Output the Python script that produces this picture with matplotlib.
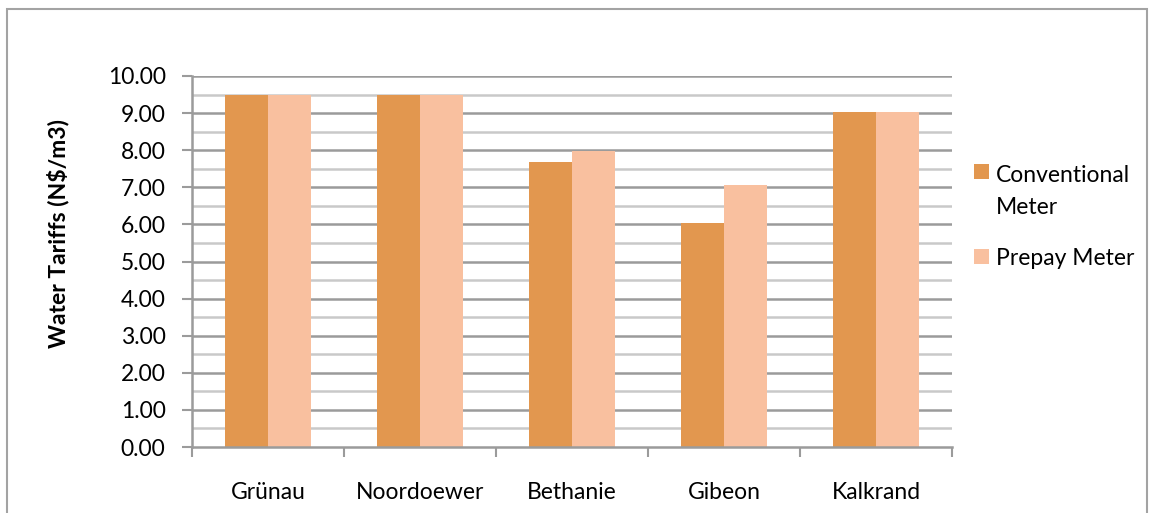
import matplotlib
matplotlib.use("Agg")
import matplotlib.pyplot as plt
from matplotlib.patches import Rectangle
import numpy as np

plt.rcParams['font.family'] = ['Lato', 'DejaVu Sans']

towns = ["Grünau", "Noordoewer", "Bethanie", "Gibeon", "Kalkrand"]
conventional = [9.50, 9.50, 7.68, 6.03, 9.03]
prepay = [9.50, 9.50, 7.98, 7.06, 9.03]
series_names = ["Conventional\nMeter", "Prepay Meter"]
y_label = "Water Tariffs (N$/m3)"

c_conv = "#E2974F"
c_pre = "#F9C09F"
grid_major = "#9B9B9B"
grid_minor = "#C9C9C9"

W, H = 1152, 513
fs = 16.5
fig = plt.figure(figsize=(W / 100, H / 100), dpi=100)

# outer chart border
fig.patches.append(Rectangle((7 / W, -0.1), 1140 / W, 1 - 9 / H + 0.1,
                             transform=fig.transFigure, fill=False,
                             edgecolor="#A3A3A3", linewidth=1.5))

ax = fig.add_axes([192 / W, 1 - 447 / H, 760 / W, 371 / H])

x = np.arange(len(towns))
bw = 0.283
bars_c = ax.bar(x - bw / 2, conventional, bw, color=c_conv, zorder=3)
bars_p = ax.bar(x + bw / 2, prepay, bw, color=c_pre, zorder=3)

ax.set_xlim(-0.5, len(towns) - 0.5)
ax.set_ylim(0, 10)

# gridlines: whole units dark, half units light
for v in np.arange(0.5, 10, 1.0):
    ax.axhline(v, color=grid_minor, linewidth=1.8, zorder=1)
for v in np.arange(1, 11, 1.0):
    ax.axhline(v, color=grid_major, linewidth=1.8, zorder=1)

ax.set_yticks(np.arange(0, 11, 1))
ax.set_yticklabels([f"{v:.2f}" for v in np.arange(0, 11, 1)])
ax.tick_params(axis="y", length=7, width=1.5, color=grid_major, pad=12,
               labelsize=fs, labelcolor="black")

# category boundary ticks and centred labels
ax.set_xticks(np.arange(-0.5, len(towns), 1.0))
ax.set_xticklabels([])
ax.tick_params(axis="x", which="major", length=7, width=1.5, color=grid_major)
ax.set_xticks(x, minor=True)
ax.set_xticklabels(towns, minor=True)
ax.tick_params(axis="x", which="minor", length=0, pad=25, labelsize=fs)

for s in ["top", "right"]:
    ax.spines[s].set_visible(False)
for s in ["left", "bottom"]:
    ax.spines[s].set_color(grid_major)
    ax.spines[s].set_linewidth(1.8)
    ax.spines[s].set_zorder(4)

fig.text(58 / W, 1 - 233 / H, y_label, rotation=90, ha="center", va="center",
         fontsize=fs, fontweight="bold")

# legend: colour square beside the first line of each entry
entries = [(bars_c.patches[0].get_facecolor(), series_names[0], 164, 182),
           (bars_p.patches[0].get_facecolor(), series_names[1], 249, 265)]
for color, name, ytop, base in entries:
    fig.patches.append(Rectangle((974 / W, 1 - (ytop + 15) / H), 15 / W, 15 / H,
                                 transform=fig.transFigure, facecolor=color,
                                 edgecolor="none"))
    for i, line in enumerate(name.split("\n")):
        fig.text(996 / W, 1 - (base + 32 * i) / H, line, ha="left",
                 va="baseline", fontsize=fs)

fig.savefig("out.png", dpi=100)
